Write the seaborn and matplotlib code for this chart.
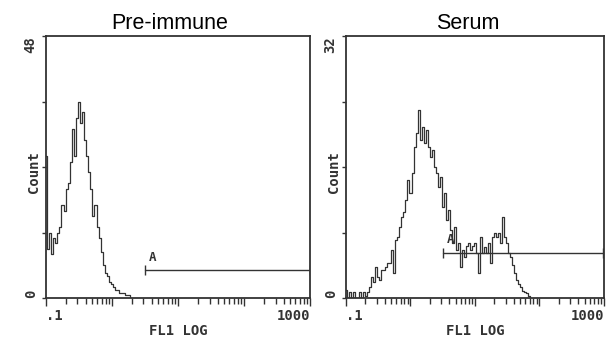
import numpy as np
import matplotlib
matplotlib.use('Agg')
import matplotlib.pyplot as plt
import seaborn as sns

# FL1 histograms, counts, one value per 8-channel bin
# (1024 channels = 4 log decades, .1 to 1000)
bin_width = 8
pre_counts = [26, 9, 12, 8, 11, 10, 12, 13, 17, 16, 20, 21, 25, 31, 26, 33, 36, 32,
              34, 29, 26, 23, 20, 15, 17, 13, 11, 8.5, 6, 4.5, 4, 3, 2.5, 2, 1.5,
              1.5, 1, 1, 1, 0.5, 0.5, 0, 0]
serum_counts = [1.0, 0, 0.7, 0, 0.7, 0, 0, 0.7, 0, 0.7, 0.3, 0.7, 1.3, 2.6, 2, 3.8,
                2.6, 2.2, 3.4, 3.4, 3.8, 4.3, 4.3, 5.9, 3, 7.1, 7.5, 8.7, 9.9, 10.5,
                12, 14.4, 12.8, 15.3, 18.4, 20.1, 23, 19.3, 20.9, 18.9, 20.5, 18.4,
                17.2, 18.1, 16, 15.3, 13.6, 14.8, 11.1, 12.8, 9.5, 10.7, 8.3, 6.7,
                8.7, 5.9, 6.7, 3.8, 5.9, 5, 6.3, 6.7, 5.9, 6.3, 6.7, 5.5, 3, 7.5,
                5.5, 6.2, 5.5, 6.7, 4.3, 7.5, 7.9, 7.5, 7.9, 6.7, 9.9, 7.5, 6.7,
                5.5, 5, 4, 3, 2.2, 1.7, 1.3, 0.9, 0.7, 0.6, 0.3, 0]

titles = ['Pre-immune', 'Serum']
y_max = [48, 32]
gate_start = [384, 385]   # channel
gate_end = 1024
gate_level = [5.1, 5.5]
gate_label = ['A', 'A']

decades = [0.1, 1, 10, 100, 1000]

sns.set_style('ticks')
plt.rcParams['font.family'] = ['DejaVu Sans Mono', 'DejaVu Sans']

fig = plt.figure(figsize=(6.15, 3.41), dpi=100)
ax1 = fig.add_axes([0.0748, 0.1261, 0.4293, 0.7683])
ax2 = fig.add_axes([0.5626, 0.1261, 0.4195, 0.7683])

ink = '#333333'

def chan(v):
    return 256 * (np.log10(v) + 1)

major = [chan(d) for d in decades]
minor = [chan(d * k) for d in decades[:-1] for k in range(2, 10)]

for i, (ax, counts) in enumerate(zip([ax1, ax2], [pre_counts, serum_counts])):
    ch = np.arange(len(counts)) * bin_width
    sns.lineplot(x=ch, y=counts, ax=ax, color=ink, linewidth=0.9,
                 drawstyle='steps-mid', legend=False)

    ym = y_max[i]
    ax.set_xlim(0, 1024)
    ax.set_ylim(0, ym)

    # gate marker
    tick_h = 5 / 262 * ym
    ax.plot([gate_start[i], gate_end], [gate_level[i], gate_level[i]], color=ink, lw=1)
    ax.vlines([gate_start[i], gate_end - 2], gate_level[i] - tick_h, gate_level[i] + tick_h,
              color=ink, lw=1)
    ax.text(gate_start[i] + 14, gate_level[i] + 1.3 * tick_h, gate_label[i],
            fontsize=9, fontweight='bold', color=ink, ha='left', va='bottom')

    for s in ax.spines.values():
        s.set_color(ink)
        s.set_linewidth(1.3)

    ax.set_xticks(major)
    ax.set_xticks(minor, minor=True)
    ax.set_xticklabels(['.1', '', '', '', '1000'], fontsize=10, fontweight='bold', color=ink)
    lbls = ax.get_xticklabels()
    lbls[0].set_ha('left')
    lbls[-1].set_ha('right')
    ax.tick_params(axis='x', which='major', length=6, width=1, color=ink, pad=2)
    ax.tick_params(axis='x', which='minor', length=4, width=1, color=ink)

    ax.set_yticks([0, ym / 4, ym / 2, 3 * ym / 4, ym])
    ax.set_yticklabels(['0', '', '', '', str(ym)], fontsize=10, fontweight='bold',
                       color=ink, rotation=90)
    ylb = ax.get_yticklabels()
    ylb[0].set_va('bottom')
    ylb[-1].set_va('top')
    ax.tick_params(axis='y', length=3, width=1, color=ink, pad=3)

    ax.set_xlabel('FL1 LOG', fontsize=10, fontweight='bold', color=ink, labelpad=1)
    ax.set_ylabel('Count', fontsize=10, fontweight='bold', color=ink)
    ax.yaxis.set_label_coords(-0.02, 0.48)

    ax.set_title(titles[i], fontsize=15.5, family='Liberation Sans', color='black',
                 x=0.47, pad=5)

fig.savefig('out.png', dpi=100, facecolor='white')
